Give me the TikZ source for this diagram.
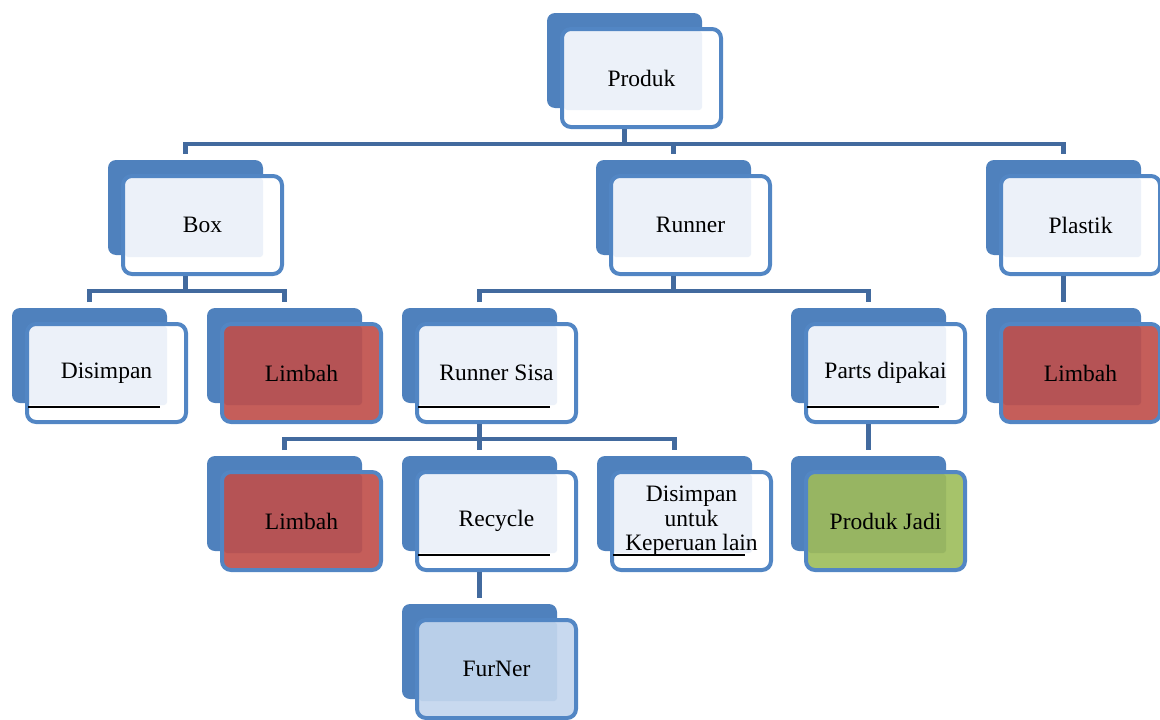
\documentclass[tikz,border=0pt]{standalone}
\usepackage{fontspec}
\setmainfont{Liberation Serif}
\definecolor{backblue}{RGB}{79,129,189}
\definecolor{edgeblue}{RGB}{82,134,196}
\definecolor{connblue}{RGB}{66,106,158}
\definecolor{lightin}{RGB}{236,241,249}
\definecolor{redout}{RGB}{197,94,90}
\definecolor{redin}{RGB}{181,83,85}
\definecolor{greenout}{RGB}{166,195,106}
\definecolor{greenin}{RGB}{151,181,98}
\definecolor{furout}{RGB}{200,217,239}
\definecolor{furin}{RGB}{185,207,233}
\tikzset{
  backbox/.style={rectangle, rounded corners=8pt, fill=backblue, minimum width=155pt, minimum height=95pt, inner sep=0pt, outer sep=0pt},
  frontbox/.style={rectangle, rounded corners=9pt, draw=edgeblue, line width=4pt, minimum width=159pt, minimum height=98pt, inner sep=0pt, align=center, font=\fontsize{23.5}{24.5}\selectfont},
  conn/.style={draw=connblue, line width=4.5pt, line join=miter, line cap=butt},
  uline/.style={draw=black, line width=1.6pt}
}
\newcommand\orgbox[6]{%
  \node[backbox] (#1-b) at (#2+77.5,#3+47.5) {};
  \fill[#5, rounded corners=8pt] (#2+15,#3+16) rectangle (#2+174,#3+114);
  \fill[#6, rounded corners=3pt] (#2+17,#3+18) rectangle (#2+155,#3+97);
  \node[frontbox] (#1) at (#2+94.5,#3+65) {#4};
}
\newcommand\uln[2]{\draw[uline] (#1+16,#2+99) -- (#1+148,#2+99);}
\begin{document}
\begin{tikzpicture}[x=1pt,y=-1pt]
\useasboundingbox (0,0) rectangle (1160,720);
\coordinate (bar1) at (0,144);
\coordinate (bar2) at (0,291);
\coordinate (bar3) at (0,439);
% boxes
\orgbox{prod}{547}{13}{Produk}{white}{lightin}
\orgbox{box}{108}{160}{Box}{white}{lightin}
\orgbox{runner}{596}{160}{Runner}{white}{lightin}
\orgbox{plastik}{986}{160}{Plastik}{white}{lightin}
\orgbox{dis}{12}{308}{Disimpan}{white}{lightin}
\uln{12}{308}
\orgbox{limA}{207}{308}{Limbah}{redout}{redin}
\orgbox{rsisa}{402}{308}{Runner Sisa}{white}{lightin}
\uln{402}{308}
\orgbox{parts}{791}{308}{Parts dipakai}{white}{lightin}
\uln{791}{308}
\orgbox{limC}{986}{308}{Limbah}{redout}{redin}
\orgbox{limB}{207}{456}{Limbah}{redout}{redin}
\orgbox{recyc}{402}{456}{Recycle}{white}{lightin}
\uln{402}{456}
\orgbox{disun}{597}{456}{Disimpan\\untuk\\Keperuan lain}{white}{lightin}
\uln{597}{456}
\orgbox{pjadi}{791}{456}{Produk Jadi}{greenout}{greenin}
\orgbox{furner}{402}{604}{FurNer}{furout}{furin}
% connectors
\draw[conn] (prod-b |- prod.south) -- (prod-b |- bar1);
\draw[conn] ([yshift=6pt]box-b.north) |- (plastik-b |- bar1) -- ([yshift=6pt]plastik-b.north);
\draw[conn] (runner-b |- bar1) -- ([yshift=6pt]runner-b.north);
\draw[conn] (box-b |- box.south) -- (box-b |- bar2);
\draw[conn] ([yshift=6pt]dis-b.north) |- (limA-b |- bar2) -- ([yshift=6pt]limA-b.north);
\draw[conn] (runner-b |- runner.south) -- (runner-b |- bar2);
\draw[conn] ([yshift=6pt]rsisa-b.north) |- (parts-b |- bar2) -- ([yshift=6pt]parts-b.north);
\draw[conn] (plastik-b |- plastik.south) -- ([yshift=6pt]limC-b.north);
\draw[conn] (rsisa-b |- rsisa.south) -- (rsisa-b |- bar3);
\draw[conn] ([yshift=6pt]limB-b.north) |- (disun-b |- bar3) -- ([yshift=6pt]disun-b.north);
\draw[conn] (rsisa-b |- bar3) -- ([yshift=6pt]recyc-b.north);
\draw[conn] (parts-b |- parts.south) -- ([yshift=6pt]pjadi-b.north);
\draw[conn] (recyc-b |- recyc.south) -- ([yshift=6pt]furner-b.north);
\end{tikzpicture}
\end{document}
